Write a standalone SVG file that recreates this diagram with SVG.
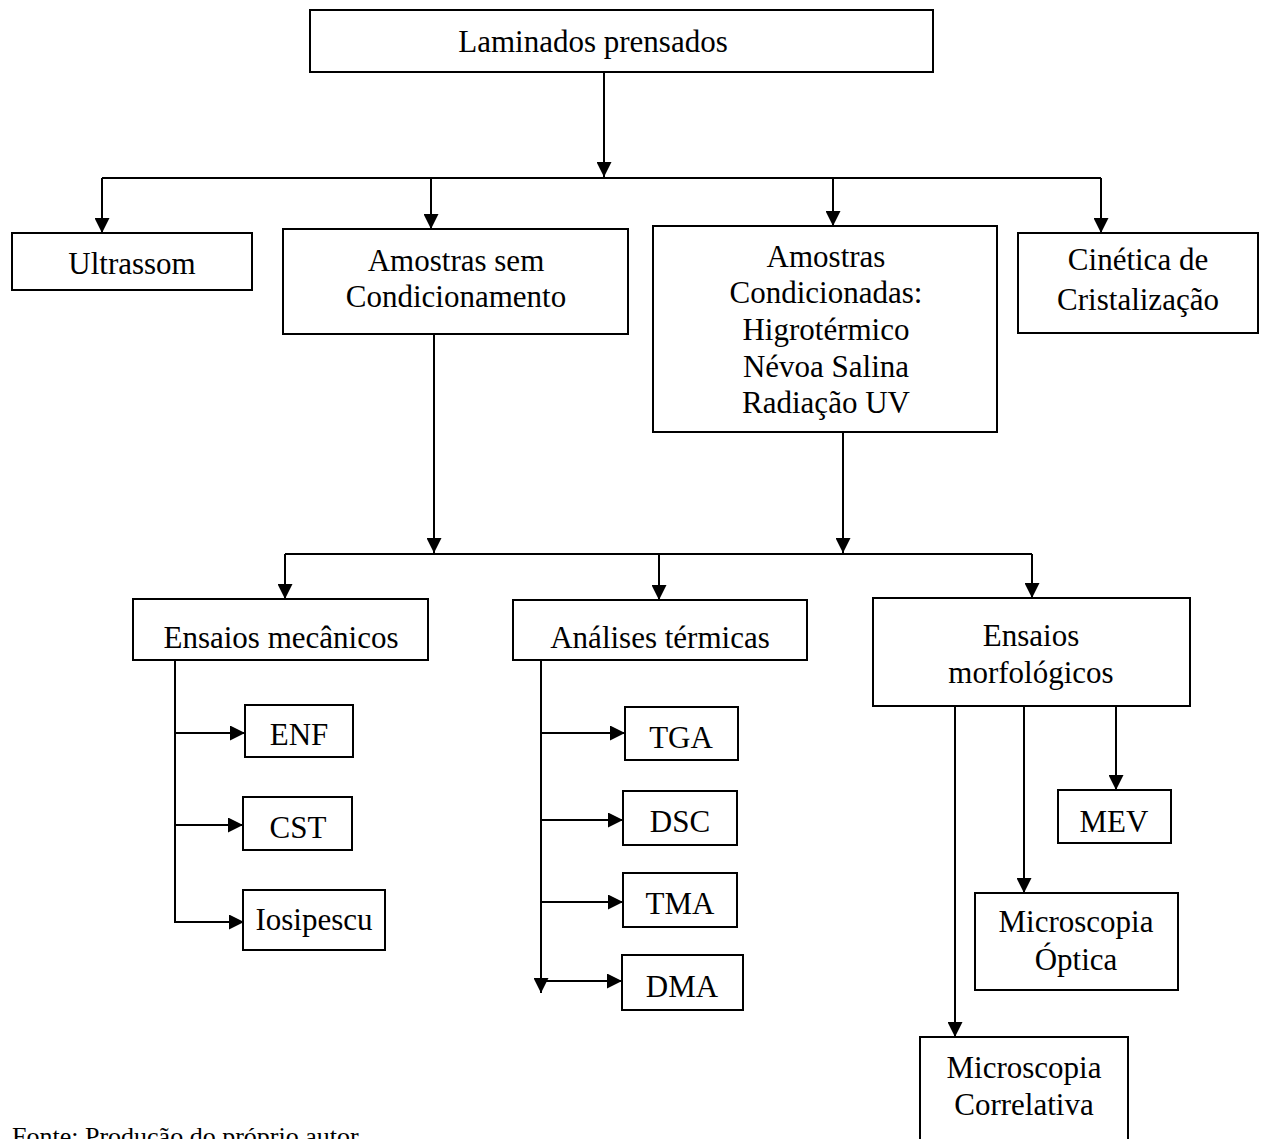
<svg xmlns="http://www.w3.org/2000/svg" width="1265" height="1139" viewBox="0 0 1265 1139">
<style>
.box{fill:#fff;stroke:#000;stroke-width:2}
.t{font-family:"Liberation Serif","Times New Roman",serif;font-size:31px;fill:#000;text-anchor:middle}
.c{fill:none;stroke:#000;stroke-width:2}
.a{marker-end:url(#arr)}
</style>
<defs>
<marker id="arr" viewBox="0 0 15 15" refX="15" refY="7.5" markerWidth="15" markerHeight="15" orient="auto" markerUnits="userSpaceOnUse">
<path d="M0,0 L15,7.5 L0,15 z" fill="#000"/>
</marker>
</defs>
<rect width="1265" height="1139" fill="#fff"/>
<g id="connectors">
<path class="c a" d="M604,72 V177"/>
<path class="c" d="M102,178 H1101"/>
<path class="c a" d="M102,178 V233"/>
<path class="c a" d="M431,178 V229"/>
<path class="c a" d="M833,178 V226"/>
<path class="c a" d="M1101,178 V233"/>
<path class="c a" d="M434,334 V553"/>
<path class="c a" d="M843,432 V553"/>
<path class="c" d="M285,554 H1032"/>
<path class="c a" d="M285,554 V599"/>
<path class="c a" d="M659,554 V600"/>
<path class="c a" d="M1032,554 V598"/>
<path class="c a" d="M175,660 V922 H244"/>
<path class="c a" d="M175,733 H245"/>
<path class="c a" d="M175,825 H243"/>
<path class="c a" d="M541,660 V993"/>
<path class="c a" d="M541,733 H625"/>
<path class="c a" d="M541,820 H623"/>
<path class="c a" d="M541,902 H623"/>
<path class="c a" d="M541,981 H622"/>
<path class="c a" d="M955,707 V1037"/>
<path class="c a" d="M1024,707 V893"/>
<path class="c a" d="M1116,707 V790"/>
</g>
<g id="laminados"><rect class="box" x="310" y="10" width="623" height="62"/><text class="t" x="593" y="52">Laminados prensados</text></g>
<g id="ultrassom"><rect class="box" x="12" y="233" width="240" height="57"/><text class="t" x="132" y="274">Ultrassom</text></g>
<g id="amostras-sem"><rect class="box" x="283" y="229" width="345" height="105"/><text class="t" x="456" y="271">Amostras sem</text><text class="t" x="456" y="307">Condicionamento</text></g>
<g id="amostras-cond"><rect class="box" x="653" y="226" width="344" height="206"/><text class="t" x="826" y="267">Amostras</text><text class="t" x="826" y="303">Condicionadas:</text><text class="t" x="826" y="340">Higrotérmico</text><text class="t" x="826" y="377">Névoa Salina</text><text class="t" x="826" y="413">Radiação UV</text></g>
<g id="cinetica"><rect class="box" x="1018" y="233" width="240" height="100"/><text class="t" x="1138" y="270">Cinética de</text><text class="t" x="1138" y="310">Cristalização</text></g>
<g id="ens-mec"><rect class="box" x="133" y="599" width="295" height="61"/><text class="t" x="281" y="648">Ensaios mecânicos</text></g>
<g id="enf"><rect class="box" x="245" y="705" width="108" height="52"/><text class="t" x="299" y="745">ENF</text></g>
<g id="cst"><rect class="box" x="243" y="797" width="109" height="53"/><text class="t" x="298" y="838">CST</text></g>
<g id="iosipescu"><rect class="box" x="243" y="890" width="142" height="60"/><text class="t" x="314" y="930">Iosipescu</text></g>
<g id="ana-term"><rect class="box" x="513" y="600" width="294" height="60"/><text class="t" x="660" y="648">Análises térmicas</text></g>
<g id="tga"><rect class="box" x="625" y="707" width="113" height="53"/><text class="t" x="681" y="748">TGA</text></g>
<g id="dsc"><rect class="box" x="623" y="791" width="114" height="54"/><text class="t" x="680" y="832">DSC</text></g>
<g id="tma"><rect class="box" x="623" y="873" width="114" height="54"/><text class="t" x="680" y="914">TMA</text></g>
<g id="dma"><rect class="box" x="622" y="955" width="121" height="55"/><text class="t" x="682" y="997">DMA</text></g>
<g id="ens-morf"><rect class="box" x="873" y="598" width="317" height="108"/><text class="t" x="1031" y="646">Ensaios</text><text class="t" x="1031" y="683">morfológicos</text></g>
<g id="mev"><rect class="box" x="1058" y="790" width="113" height="53"/><text class="t" x="1114" y="832">MEV</text></g>
<g id="mic-optica"><rect class="box" x="975" y="893" width="203" height="97"/><text class="t" x="1076" y="932">Microscopia</text><text class="t" x="1076" y="970">Óptica</text></g>
<g id="mic-corr"><rect class="box" x="920" y="1037" width="208" height="120"/><text class="t" x="1024" y="1078">Microscopia</text><text class="t" x="1024" y="1115">Correlativa</text></g>
<text x="12" y="1145" style="font-family:'Liberation Serif','Times New Roman',serif;font-size:26px;fill:#000">Fonte: Produção do próprio autor</text>
</svg>
